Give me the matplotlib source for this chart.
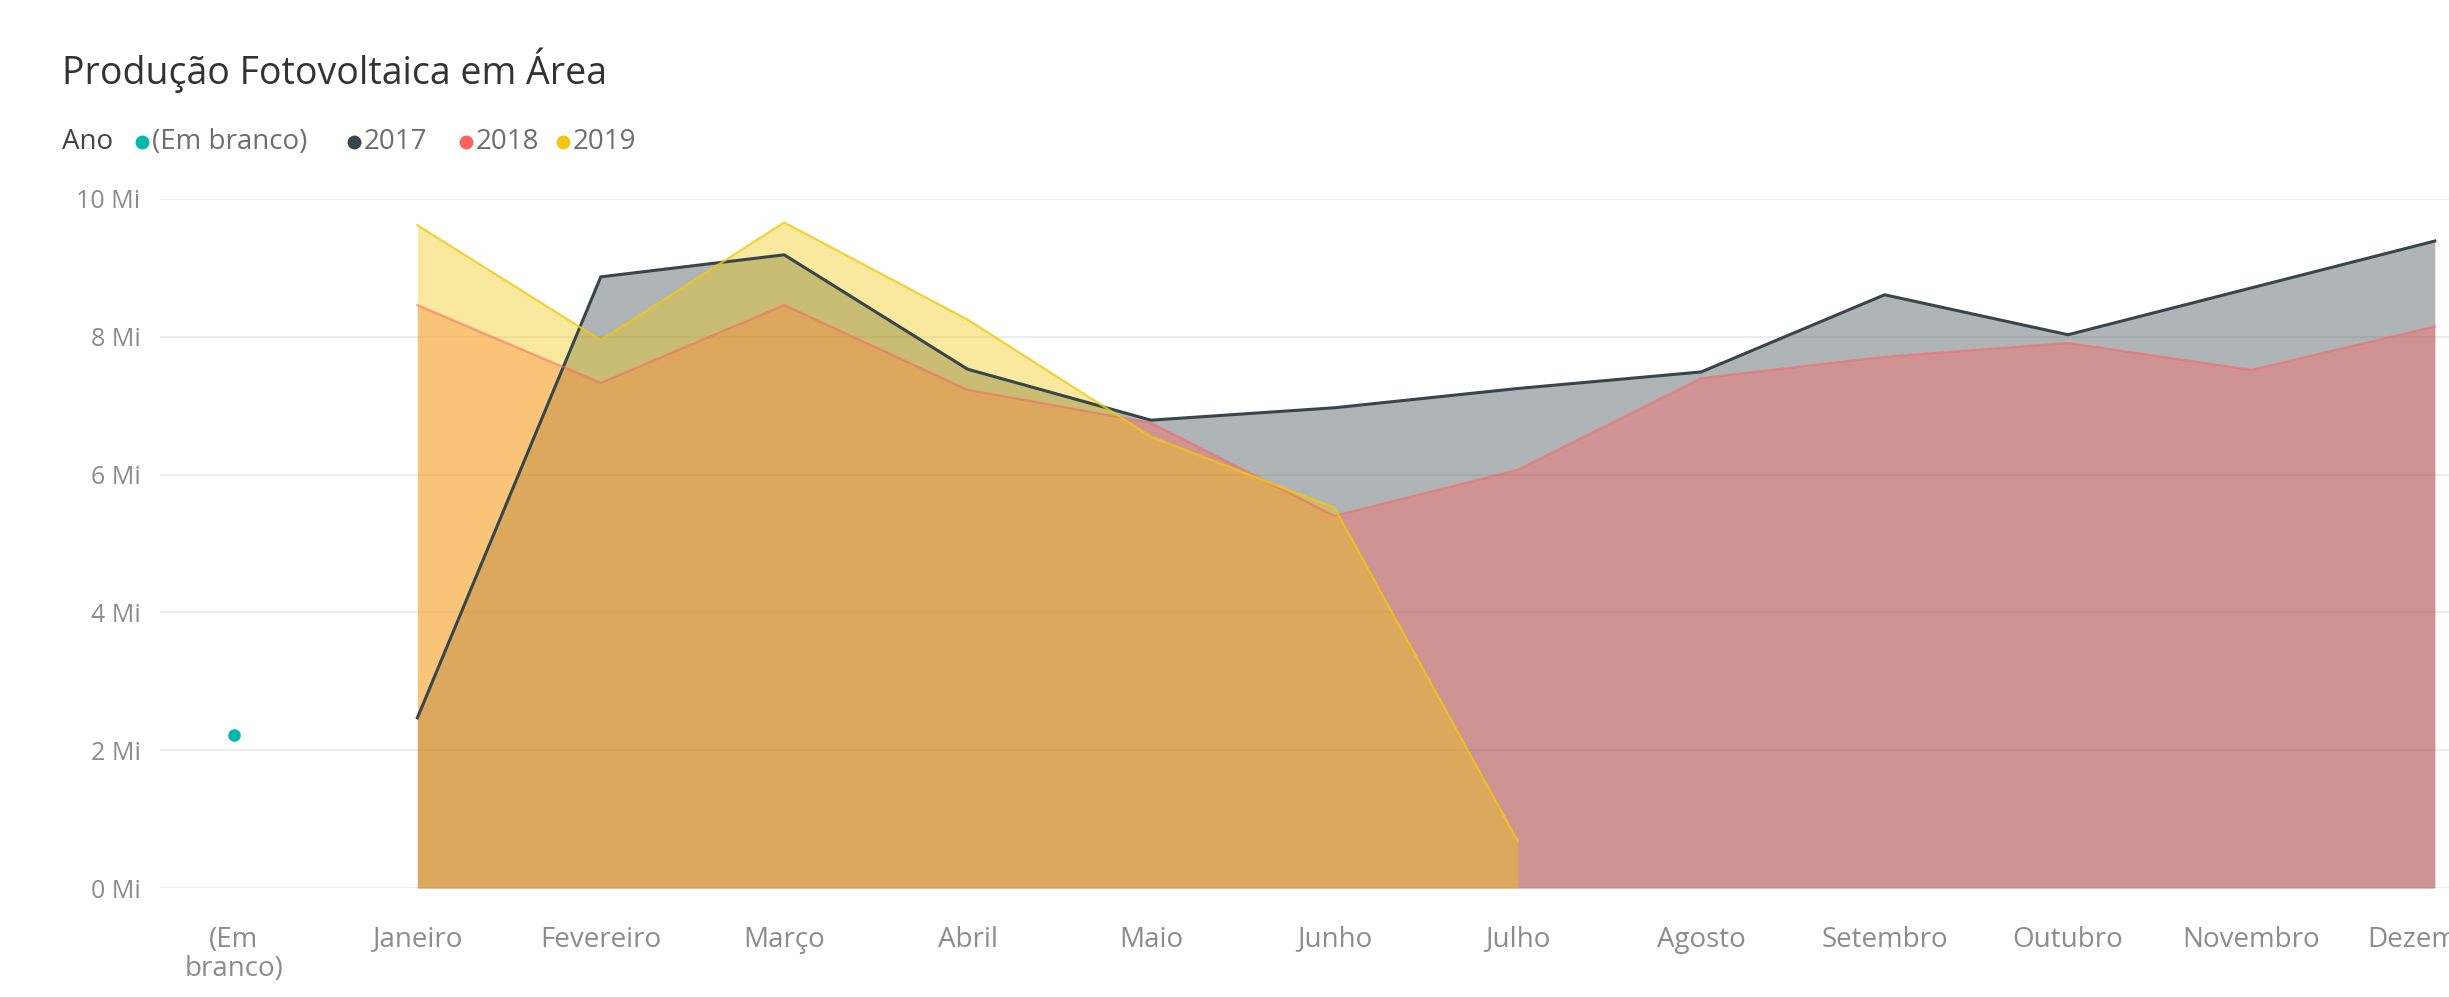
import matplotlib
matplotlib.use("Agg")
import matplotlib.pyplot as plt
from matplotlib.lines import Line2D
from matplotlib.ticker import FuncFormatter

plt.rcParams['font.family'] = ['Open Sans', 'DejaVu Sans']

# valores em milhões (Mi)
categorias = ["(Em\nbranco)", "Janeiro", "Fevereiro", "Março", "Abril", "Maio", "Junho",
              "Julho", "Agosto", "Setembro", "Outubro", "Novembro", "Dezembro"]
em_branco = [2.22]
ano_2017 = [2.47, 8.87, 9.19, 7.53, 6.79, 6.97, 7.25, 7.49, 8.61, 8.03, 8.71, 9.39]
ano_2018 = [8.46, 7.33, 8.46, 7.23, 6.75, 5.40, 6.07, 7.40, 7.71, 7.91, 7.52, 8.15]
ano_2019 = [9.62, 7.95, 9.66, 8.25, 6.55, 5.52, 0.68]
y_ticks = [0, 2, 4, 6, 8, 10]

cor_branco = "#01B8AA"
cor_2017 = "#374649"
cor_2018 = "#FD625E"
cor_2019 = "#F2C80F"

W, H = 2449, 997
fig = plt.figure(figsize=(W / 100, H / 100), dpi=100)

# eixo vai além da borda direita (o gráfico original está cortado)
passo = 183.4          # px por categoria
x_primeira = 234.0     # centro de "(Em branco)"
x0 = 160.0
x1 = 2526.0
y_zero = 888
y_top = 199
ax = fig.add_axes([x0 / W, (H - y_zero) / H, (x1 - x0) / W, (y_zero - y_top) / H])

xs = list(range(len(categorias)))

series = [(ano_2017, cor_2017, 1.0, 2.2),
          (ano_2018, cor_2018, 0.55, 1.6),
          (ano_2019, cor_2019, 0.8, 1.6)]
for vals, cor, la, lw in series:
    xx = xs[1:1 + len(vals)]
    ax.fill_between(xx, 0, vals, color=cor, alpha=0.4, linewidth=0, zorder=2)
    ax.plot(xx, vals, color=cor, alpha=la, linewidth=lw, zorder=3, solid_joinstyle="miter")

ax.plot([xs[0]], em_branco, "o", color=cor_branco, markersize=8, zorder=4)

ax.set_xlim((x0 - x_primeira) / passo, (x1 - x_primeira) / passo)
ax.set_ylim(0, 10)
ax.set_yticks(y_ticks)
ax.yaxis.set_major_formatter(FuncFormatter(lambda v, p: f"{v:.0f} Mi"))
ax.set_xticks(xs)
ax.set_xticklabels(categorias, linespacing=1.05)
ax.tick_params(axis="y", length=0, pad=14, labelsize=18, labelcolor="#8C8C8C")
ax.tick_params(axis="x", length=0, pad=27, labelsize=20, labelcolor="#8C8C8C")
ax.grid(axis="y", color="#EDEDED", linewidth=1.5, zorder=0)
ax.set_axisbelow(True)
for s in ax.spines.values():
    s.set_visible(False)

# título
fig.text(62 / W, 1 - 70 / H, "Produção Fotovoltaica em Área", fontsize=27,
         color="#333333", va="center", ha="left")

# legenda
ly = 1 - 142 / H
fig.text(62 / W, ly, "Ano", fontsize=20, color="#444444", va="center", ha="left")
itens = [("(Em branco)", cor_branco, 142, 152),
         ("2017", cor_2017, 354, 364),
         ("2018", cor_2018, 466, 476),
         ("2019", cor_2019, 563, 573)]
for nome, cor, mx, tx in itens:
    fig.add_artist(Line2D([mx / W], [ly], marker="o", color=cor, markersize=9,
                          transform=fig.transFigure))
    fig.text(tx / W, ly, nome, fontsize=20, color="#6E6E6E", va="center", ha="left")

fig.savefig("out.png", dpi=100)
